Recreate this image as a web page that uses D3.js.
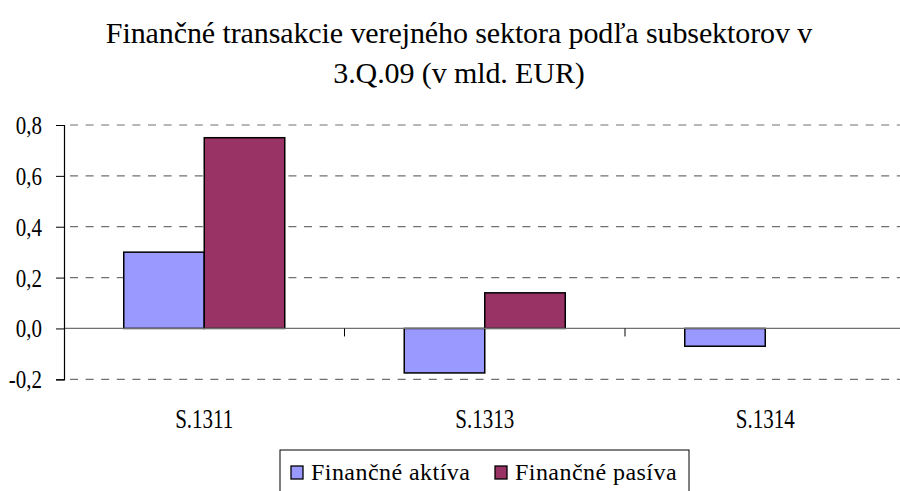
<!DOCTYPE html>
<html><head><meta charset="utf-8">
<script src="https://cdn.jsdelivr.net/npm/d3@7"></script>
<style>body{margin:0;background:#fff}svg{display:block}text{font-family:"Liberation Serif","Times New Roman",serif;fill:#000}</style>
</head><body><svg id="c" width="900" height="491"></svg>
<script>
const titleLines = ["Finančné transakcie verejného sektora podľa subsektorov v", "3.Q.09 (v mld. EUR)"];
const categories = ["S.1311", "S.1313", "S.1314"];
const seriesNames = ["Finančné aktíva", "Finančné pasíva"];
const aktiva = [0.30, -0.175, -0.07];
const pasiva = [0.75, 0.14, 0];
const yTicks = [-0.2, 0, 0.2, 0.4, 0.6, 0.8];
const colors = ["#9999FF", "#993366"];

const svg = d3.select("#c");
const plotL = 64, plotR = 905.5, plotT = 125, plotB = 379.3;
const y = d3.scaleLinear().domain([-0.2, 0.8]).range([plotB, plotT]);
const x = d3.scaleBand().domain(categories).range([plotL, plotR]).paddingInner(0.426).paddingOuter(0.213);
const xs = d3.scaleBand().domain(seriesNames).range([0, x.bandwidth()]);
const step = x.step();
const fmt = v => d3.format(".1f")(v).replace(".", ",").replace("−", "-");

// title
svg.selectAll("text.title").data(titleLines).join("text")
  .attr("class", "title").attr("x", 459).attr("y", (d, i) => 43 + i * 39.5)
  .attr("text-anchor", "middle").style("font-size", "30px").style("letter-spacing", "-0.1px").text(d => d);

// gridlines
svg.append("g").selectAll("line").data(yTicks.filter(t => t !== 0)).join("line")
  .attr("x1", plotL).attr("x2", 900).attr("y1", d => y(d)).attr("y2", d => y(d))
  .attr("stroke", "#707070").attr("stroke-width", 1.2).attr("stroke-dasharray", "8,7.6").attr("stroke-dashoffset", -6);

// bars
const data = categories.map((c, i) => ({c, vals: [aktiva[i], pasiva[i]]}));
const g = svg.append("g");
data.forEach(d => {
  d.vals.forEach((v, j) => {
    if (v === 0) return;
    g.append("rect")
      .attr("x", x(d.c) + xs(seriesNames[j]))
      .attr("y", y(Math.max(0, v)))
      .attr("width", xs.bandwidth())
      .attr("height", Math.abs(y(v) - y(0)))
      .attr("fill", colors[j]).attr("stroke", "#000").attr("stroke-width", 1.5);
  });
});

// zero line
svg.append("line").attr("x1", plotL).attr("x2", 900).attr("y1", y(0)).attr("y2", y(0))
  .attr("stroke", "#707070").attr("stroke-width", 1.3);

// category tick marks
svg.append("g").selectAll("line").data(d3.range(1, categories.length + 1)).join("line")
  .attr("x1", i => plotL + i * step).attr("x2", i => plotL + i * step)
  .attr("y1", y(0)).attr("y2", y(0) + 8).attr("stroke", "#000").attr("stroke-width", 1);

// y axis
const yAxis = svg.append("g").attr("transform", `translate(${plotL},0)`)
  .call(d3.axisLeft(y).tickValues(yTicks).tickSize(8).tickPadding(14).tickFormat(fmt));
yAxis.select(".domain").attr("stroke", "#000").attr("stroke-width", 1.2);
yAxis.selectAll(".tick line").attr("stroke", "#000");
yAxis.selectAll(".tick text").style("font-size", "21px").style("font-family", '"Liberation Serif",serif')
  .attr("y", 0).attr("dy", null).attr("fill", "#000")
  .attr("transform", "translate(0,8.5) scale(1,1.18)");

// category labels
svg.append("g").selectAll("text").data(categories).join("text")
  .attr("text-anchor", "middle")
  .attr("transform", d => `translate(${x(d) + x.bandwidth() / 2},428) scale(1,1.25)`)
  .style("font-size", "21px").text(d => d);

// legend
const lg = svg.append("g");
lg.append("rect").attr("x", 280).attr("y", 450).attr("width", 409).attr("height", 45)
  .attr("fill", "#fff").attr("stroke", "#000").attr("stroke-width", 1);
const legX = [291, 495];
seriesNames.forEach((s, j) => {
  lg.append("rect").attr("x", legX[j]).attr("y", 466).attr("width", 12).attr("height", 13)
    .attr("fill", colors[j]).attr("stroke", "#000").attr("stroke-width", 1.3);
  lg.append("text").attr("x", legX[j] + 20).attr("y", 480).style("font-size", "24px")
    .style("letter-spacing", "0.45px").text(s);
});
</script></body></html>
